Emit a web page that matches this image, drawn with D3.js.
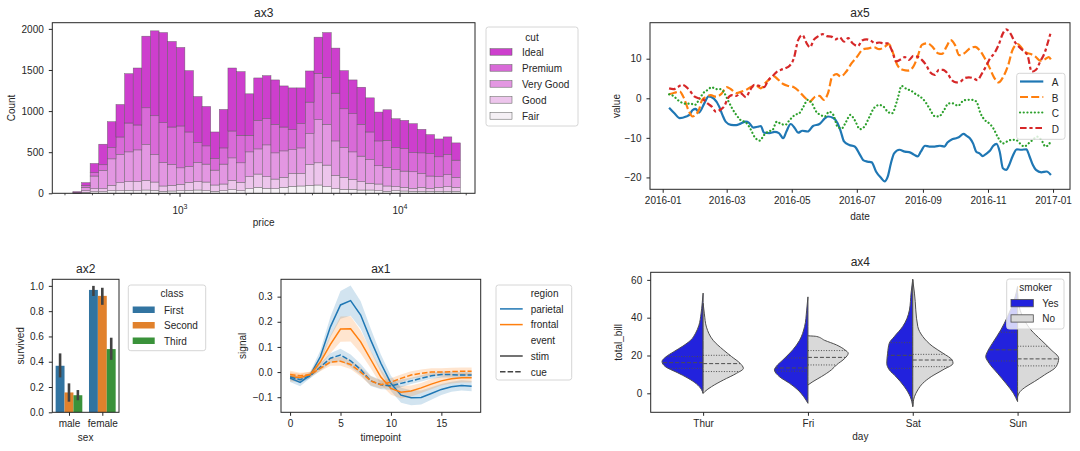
<!DOCTYPE html>
<html><head><meta charset="utf-8">
<script src="https://cdn.jsdelivr.net/npm/d3@7"></script>
<style>
body{margin:0;background:#fff;}
svg text{font-family:"Liberation Sans",Arial,sans-serif;fill:#262626;}
</style></head><body>
<svg id="c" width="1080" height="451"></svg>
<script>
// ---------------- DATA ----------------
// ax3: stacked histogram of price (log bins)
const priceMin = 326, priceMax = 18823, nBins = 45;
const cutNames = ["Ideal","Premium","Very Good","Good","Fair"];
const cutColors = ["#cd3fcd","#d96ad8","#e397e2","#edc5ec","#f5f0f5"];
const histIdeal = [8,33,113,250,315,395,600,693,871,1033,1096,1041,955,746,560,479,323,468,766,774,504,516,524,540,500,508,435,379,439,544,548,464,411,451,415,351,371,350,343,351,286,230,217,214,210];
const histPremium = [5,24,40,69,137,213,351,303,447,471,484,455,509,419,242,222,141,197,327,335,202,347,318,347,290,242,295,383,565,572,581,471,464,387,335,302,330,267,274,234,250,274,242,246,209];
const histVeryGood = [4,41,154,222,322,343,363,387,436,335,286,254,201,194,234,218,181,242,274,238,302,306,387,319,322,290,310,375,524,496,419,363,335,311,290,222,226,209,197,202,169,150,129,145,121];
const histGood = [2,20,36,36,65,97,105,109,117,101,65,69,77,97,101,105,77,81,113,101,146,161,142,117,121,157,153,254,270,262,162,146,121,101,81,81,65,49,45,36,49,36,49,57,49];
const histFair = [1,12,20,20,32,32,36,32,40,36,24,28,32,36,40,32,24,32,44,32,56,73,60,56,73,85,89,97,101,81,56,48,48,40,40,32,24,32,28,24,24,24,24,24,24];
const ax3YTicks = [0,500,1000,1500,2000];

// ax5: line plot, points = [day of 2016 (0 = Jan 1), value]
const seriesNames = ["A","B","C","D"];
const seriesColors = ["#1f77b4","#ff7f0e","#2ca02c","#d62728"];
const seriesA = [[6,-2.4],[11,-3.8],[16,-5.0],[22,-4.6],[25,-4.2],[28,-3.0],[31,-2.7],[34,-3.6],[39,-1.3],[43,0.5],[48,-0.1],[53,-2.1],[56,-4.2],[59,-5.9],[64,-6.7],[69,-6.8],[73,-6.4],[78,-5.9],[81,-6.2],[85,-7.4],[89,-7.2],[92,-7.0],[95,-8.7],[100,-8.8],[105,-8.5],[109,-8.8],[113,-10.1],[116,-8.4],[120,-6.5],[124,-7.6],[127,-8.7],[131,-8.2],[136,-8.4],[141,-7.0],[147,-6.5],[152,-5.1],[155,-4.6],[160,-5.0],[164,-6.3],[167,-8.4],[170,-10.9],[175,-11.8],[180,-12.2],[185,-14.3],[188,-15.6],[192,-16.0],[196,-16.2],[200,-18.5],[205,-20.2],[208,-21.0],[211,-19.8],[214,-16.4],[217,-13.9],[222,-13.0],[227,-13.5],[231,-13.6],[236,-14.3],[239,-14.7],[242,-13.5],[246,-12.0],[250,-12.2],[255,-12.2],[260,-12.0],[264,-12.2],[267,-11.2],[271,-10.4],[275,-10.1],[278,-9.8],[282,-9.0],[285,-9.5],[288,-10.1],[291,-11.4],[294,-13.5],[297,-13.9],[300,-14.6],[303,-14.1],[307,-13.2],[310,-12.0],[313,-11.5],[316,-13.5],[319,-17.7],[322,-18.1],[325,-16.8],[328,-14.7],[332,-12.9],[336,-13.0],[341,-12.9],[344,-14.7],[347,-16.8],[350,-18.1],[355,-18.7],[360,-18.5],[364,-19.4]];
const seriesB = [[6,1.0],[11,1.4],[16,1.7],[20,0],[24,-2.9],[28,-4.6],[31,-4.2],[34,-2.9],[37,-0.4],[41,0.4],[45,0.8],[50,0.4],[55,1.1],[60,2.8],[64,2.3],[69,1.3],[74,1.7],[78,2.1],[83,2.9],[88,3.1],[92,2.5],[96,3.8],[100,4.8],[104,5.6],[108,4.8],[113,3.6],[118,3.1],[123,2.8],[128,1.7],[134,0],[138,-0.8],[143,0.4],[147,0.6],[151,-0.4],[155,1.3],[159,5.5],[163,6.1],[167,5.5],[172,6.7],[177,8.8],[182,10.4],[188,12.4],[193,12.6],[198,12.9],[203,12.4],[208,13.0],[212,13.7],[216,11.4],[220,8.4],[225,7.2],[230,7.0],[235,8.0],[239,10.5],[243,13.5],[248,13.9],[253,13.0],[258,11.4],[262,11.2],[266,13.0],[270,14.7],[274,13.5],[278,10.9],[283,11.4],[288,12.6],[293,13.0],[297,12.2],[302,10.1],[306,8.0],[311,5.1],[315,4.0],[319,5.3],[324,8.4],[328,12.2],[333,13.7],[337,12.6],[341,11.5],[345,11.2],[350,10.4],[354,9.5],[358,9.8],[362,10.4],[364,9.8]];
const seriesC = [[6,1.0],[10,0.6],[14,-0.4],[18,-1.1],[22,-1.4],[26,-1.3],[30,-1.7],[34,-0.4],[38,1.3],[42,2.1],[46,2.8],[50,2.3],[54,2.3],[57,1.7],[61,-0.4],[65,-2.5],[69,-4.2],[73,-5.5],[78,-6.1],[82,-7.6],[86,-9.7],[91,-10.7],[95,-9.3],[99,-8.4],[103,-8.0],[107,-5.9],[111,-6.5],[115,-6.7],[119,-5.5],[124,-4.2],[128,-3.8],[132,-2.1],[136,-0.4],[140,-1.3],[144,-3.4],[148,-4.2],[152,-4.6],[156,-3.4],[160,-4.2],[164,-7.2],[168,-7.6],[172,-5.9],[176,-4.2],[180,-5.5],[185,-7.8],[189,-7.2],[194,-4.6],[198,-2.5],[203,-1.7],[207,-2.1],[211,-3.4],[215,-3.8],[220,-0.4],[224,3.1],[229,2.3],[233,1.9],[237,1.1],[242,0.3],[246,-0.8],[250,-2.5],[255,-4.5],[259,-4.6],[264,-2.9],[268,-1.3],[272,-1.3],[277,-1.9],[281,-0.8],[285,-0.4],[290,-0.4],[294,-0.8],[298,-3.8],[302,-5.5],[306,-6.3],[310,-7.6],[314,-9.7],[319,-11.4],[323,-10.9],[327,-10.5],[331,-10.5],[335,-11.4],[339,-12.2],[343,-11.4],[347,-10.5],[351,-9.7],[355,-10.5],[359,-12.2],[364,-10.9]];
const seriesD = [[6,2.5],[10,2.3],[14,2.8],[18,3.4],[22,2.9],[26,1.7],[30,0.4],[34,0],[38,-0.3],[42,-1.3],[46,-2.1],[50,-3.4],[54,-2.9],[58,-1.9],[61,0],[65,0.8],[69,0.6],[73,1.3],[78,0.3],[82,2.1],[86,3.4],[91,3.1],[95,2.8],[99,4.6],[103,5.6],[107,6.7],[111,7.2],[115,7.6],[119,8.2],[123,10.1],[127,14.7],[131,16.0],[135,13.9],[138,12.9],[142,14.9],[146,15.7],[150,16.2],[154,15.7],[158,15.6],[162,14.9],[166,15.4],[170,14.3],[174,15.2],[178,13.9],[183,13.2],[187,14.6],[191,14.9],[195,14.6],[199,13.9],[203,14.1],[207,13.9],[211,13.9],[215,12.0],[219,9.3],[223,9.8],[227,10.4],[231,9.7],[235,10.7],[239,10.5],[243,9.7],[247,8.4],[251,6.5],[255,5.9],[259,7.2],[263,7.2],[267,6.3],[271,4.6],[275,4.0],[279,4.2],[283,5.1],[287,5.3],[291,5.1],[295,4.6],[299,6.1],[303,8.0],[307,10.1],[311,11.4],[315,13.5],[319,16.4],[322,17.4],[326,16.4],[330,14.3],[334,13.0],[338,12.0],[342,10.9],[346,6.7],[350,7.2],[354,9.3],[358,11.4],[362,14.9],[364,16.8]];
const ax5YTicks = [-20,-10,0,10];

// ax2: barplot
const sexCats = ["male","female"];
const classNames = ["First","Second","Third"];
const classColors = ["#3274a1","#e1812c","#3a923a"];
const survMale = [0.368,0.157,0.135];
const survFemale = [0.968,0.921,0.5];
const ciMaleLo = [0.276,0.084,0.095], ciMaleHi = [0.466,0.229,0.176];
const ciFemaleLo = [0.92,0.85,0.415], ciFemaleHi = [1.0,0.985,0.59];
const ax2YTicks = [0,0.2,0.4,0.6,0.8,1.0];

// ax1: fmri signal
const timepoints = [0,1,2,3,4,5,6,7,8,9,10,11,12,13,14,15,16,17,18];
const parietalStim = [-0.024,-0.041,-0.012,0.061,0.18,0.267,0.284,0.227,0.127,0.035,-0.045,-0.092,-0.102,-0.101,-0.085,-0.069,-0.058,-0.053,-0.056];
const frontalStim = [-0.019,-0.022,-0.01,0.04,0.11,0.171,0.172,0.12,0.05,-0.02,-0.065,-0.08,-0.075,-0.063,-0.048,-0.035,-0.027,-0.023,-0.023];
const parietalCue = [-0.02,-0.03,-0.015,0.02,0.055,0.068,0.045,0.01,-0.035,-0.05,-0.055,-0.045,-0.035,-0.025,-0.015,-0.01,-0.01,-0.012,-0.012];
const frontalCue = [-0.01,-0.015,-0.01,0.015,0.04,0.043,0.03,0.0,-0.035,-0.05,-0.04,-0.025,-0.012,-0.005,0.0,0.0,0.002,0.003,0.003];
const ciParietalStim = [0.015,0.015,0.012,0.025,0.04,0.055,0.06,0.055,0.045,0.035,0.03,0.03,0.03,0.028,0.025,0.022,0.02,0.02,0.02];
const ciFrontalStim = [0.018,0.015,0.012,0.02,0.035,0.05,0.05,0.045,0.035,0.03,0.025,0.025,0.022,0.02,0.02,0.018,0.018,0.018,0.018];
const ciParietalCue = [0.012,0.012,0.01,0.015,0.02,0.025,0.025,0.022,0.02,0.018,0.015,0.015,0.012,0.012,0.012,0.012,0.012,0.012,0.012];
const ciFrontalCue = [0.015,0.012,0.01,0.012,0.015,0.018,0.018,0.018,0.018,0.015,0.015,0.015,0.015,0.015,0.015,0.015,0.015,0.015,0.015];
const ax1XTicks = [0,5,10,15];
const ax1YTicks = [-0.1,0.0,0.1,0.2,0.3];

// ax4: split violins, profile = [total_bill, half-width fraction]
const dayCats = ["Thur","Fri","Sat","Sun"];
const smokerNames = ["Yes","No"];
const smokerColors = ["#2222dd","#d9d9d9"];
const violinYes = [
  [[53,0],[48,0.02],[42,0.05],[36,0.1],[31.8,0.18],[28,0.3],[25,0.48],[22,0.7],[19.4,0.88],[16.8,0.98],[14.1,0.9],[11,0.62],[8,0.36],[5,0.16],[2,0.04],[0,0]],
  [[51,0],[44,0.03],[35.3,0.08],[28,0.2],[23,0.36],[17.6,0.6],[14.1,0.76],[12.4,0.8],[8.8,0.68],[5.3,0.44],[1.8,0.24],[-1.8,0.1],[-5.3,0]],
  [[60.4,0],[53,0.04],[44,0.08],[35.3,0.24],[30,0.44],[26.5,0.56],[21.2,0.6],[15.9,0.62],[12.4,0.56],[8.8,0.4],[3.5,0.2],[-1.8,0.06],[-7,0]],
  [[56.5,0],[49.4,0.08],[40.6,0.24],[33.5,0.4],[26.5,0.6],[22,0.72],[19.4,0.76],[15.9,0.68],[10.6,0.48],[5.3,0.28],[0,0.1],[-4.4,0]]
];
const violinNo = [
  [[47.6,0],[42,0.03],[35,0.08],[28,0.24],[23,0.48],[19.4,0.68],[15.9,0.88],[13.2,0.96],[10.6,0.8],[7,0.48],[3.5,0.2],[0.9,0.04],[0,0]],
  [[30.4,0],[30.1,0.2],[28,0.4],[25.6,0.68],[23,0.88],[21.2,0.96],[18.5,0.88],[15,0.68],[12.4,0.56],[8.8,0.32],[6.2,0.12],[4.4,0]],
  [[60,0],[53,0.04],[35.3,0.12],[30,0.24],[24.7,0.48],[21.2,0.72],[17.6,0.94],[15.9,0.96],[12.4,0.72],[8.8,0.44],[5.3,0.24],[1.8,0.12],[-1.8,0.04],[-7,0]],
  [[53,0],[44,0.06],[38.8,0.16],[33.5,0.32],[28.2,0.56],[23,0.8],[18.5,0.98],[14.1,0.92],[9.7,0.64],[6.2,0.4],[3.5,0.2],[0.9,0.06],[-1.8,0]]
];
const quartYes = [[13.2,16.2,19.4],[11.7,13.4,18.7],[13.2,20.1,26.8],[17.1,23.0,32.3]];
const quartNo = [[11.5,15.7,20.1],[15.0,19.0,22.6],[14.1,17.6,20.6],[14.5,18.2,24.9]];
const ax4YTicks = [0,20,40,60];

// ---------------- DRAWING ----------------
const svg = d3.select("#c");
svg.append("rect").attr("width",1080).attr("height",451).attr("fill","#fff");
const INK = "#262626";

function txt(x,y,s,o={}){
  const t = svg.append("text").attr("x",x).attr("y",y).text(s)
    .attr("font-size",o.size||10).attr("text-anchor",o.anchor||"start");
  if(o.rot) t.attr("transform",`rotate(${o.rot},${x},${y})`);
  return t;
}
function frame(x0,y0,x1,y1){
  svg.append("rect").attr("x",x0).attr("y",y0).attr("width",x1-x0).attr("height",y1-y0)
    .attr("fill","none").attr("stroke",INK).attr("stroke-width",1);
}
function styleAxis(g){
  g.select(".domain").remove();
  g.selectAll(".tick line").attr("stroke",INK).attr("stroke-width",1);
  g.selectAll(".tick text").attr("font-size",10).attr("fill",INK)
    .attr("font-family","Liberation Sans, Arial, sans-serif");
}
function leftAxis(scale,x,ticks,fmt){
  const g = svg.append("g").attr("transform",`translate(${x},0)`)
    .call(d3.axisLeft(scale).tickValues(ticks).tickSize(3.5).tickPadding(5).tickFormat(fmt||(d=>String(d).replace("-","\u2212"))));
  styleAxis(g); return g;
}
function bottomAxis(scale,y,ticks,fmt){
  const g = svg.append("g").attr("transform",`translate(0,${y})`)
    .call(d3.axisBottom(scale).tickValues(ticks).tickSize(3.5).tickPadding(4.5).tickFormat(fmt||(d=>String(d))));
  styleAxis(g); return g;
}
function legendBox(x0,y0,x1,y1){
  svg.append("rect").attr("x",x0).attr("y",y0).attr("width",x1-x0).attr("height",y1-y0)
    .attr("rx",2.5).attr("fill","#fff").attr("fill-opacity",0.8).attr("stroke","#d6d6d6").attr("stroke-width",1);
}
const minusFmt = f => (d => d3.format(f)(d).replace("-","\u2212"));

// ===== ax3 =====
{
  const L=52.3,R=475,T=22.7,B=193.3;
  const x = d3.scaleLog().domain([Math.pow(10,2.4195),Math.pow(10,4.3409)]).range([L,R]);
  const y = d3.scaleLinear().domain([0,2075]).range([B,T]);
  const lmin = Math.log10(priceMin), lmax = Math.log10(priceMax);
  const edges = d3.range(nBins+1).map(i=>Math.pow(10, lmin + i*(lmax-lmin)/nBins));
  const cols = [histIdeal,histPremium,histVeryGood,histGood,histFair];
  const rows = d3.range(nBins).map(i=>{ const r={x0:edges[i],x1:edges[i+1]}; cutNames.forEach((c,k)=>r[c]=cols[k][i]); return r;});
  const keys = cutNames.slice().reverse();
  const stack = d3.stack().keys(keys)(rows);
  stack.forEach(layer=>{
    const col = cutColors[cutNames.indexOf(layer.key)];
    svg.append("g").selectAll("rect").data(layer).join("rect")
      .attr("x",d=>x(d.data.x0)).attr("width",d=>x(d.data.x1)-x(d.data.x0))
      .attr("y",d=>y(d[1])).attr("height",d=>y(d[0])-y(d[1]))
      .attr("fill",col).attr("stroke","#555").attr("stroke-width",0.5).attr("stroke-opacity",0.8);
  });
  frame(L,T,R,B);
  leftAxis(y,L,ax3YTicks);
  // minor ticks
  const minor = [300,400,500,600,700,800,900,2000,3000,4000,5000,6000,7000,8000,9000,20000];
  svg.append("g").selectAll("line").data(minor).join("line")
    .attr("x1",d=>x(d)).attr("x2",d=>x(d)).attr("y1",B).attr("y2",B+2).attr("stroke",INK).attr("stroke-width",0.8);
  const major = [1000,10000];
  svg.append("g").selectAll("line").data(major).join("line")
    .attr("x1",d=>x(d)).attr("x2",d=>x(d)).attr("y1",B).attr("y2",B+3.5).attr("stroke",INK).attr("stroke-width",1);
  major.forEach(v=>{
    const t = txt(x(v),B+20.5,"10",{anchor:"middle"});
    t.append("tspan").attr("dy",-4.5).attr("font-size",7).text(String(Math.round(Math.log10(v))));
  });
  txt((L+R)/2,16.7,"ax3",{size:12,anchor:"middle"});
  txt((L+R)/2,225.5,"price",{anchor:"middle"});
  txt(14.5,(T+B)/2,"Count",{anchor:"middle",rot:-90});
  // legend
  legendBox(486,27,578,126);
  txt(532,41,"cut",{anchor:"middle"});
  cutNames.forEach((c,i)=>{
    const by = 55.5 + i*16;
    svg.append("rect").attr("x",490).attr("y",by-6.8).attr("width",22).attr("height",6.5)
      .attr("fill",cutColors[i]).attr("stroke","#555").attr("stroke-width",0.5);
    txt(522,by,c);
  });
}

// ===== ax5 =====
{
  const L=650,R=1070,T=22.7,B=189.3;
  const day0 = Date.UTC(2016,0,1);
  const toDate = d => new Date(day0 + d*864e5);
  const x = d3.scaleUtc().domain([toDate(-11.9),toDate(381.9)]).range([L,R]);
  const y = d3.scaleLinear().domain([-23,19.1]).range([B,T]);
  const dashes = [null,"8,3.2","2.2,2.2","6.6,2.8,3.2,2.8"];
  const all = [seriesA,seriesB,seriesC,seriesD];
  const line = d3.line().x(d=>x(toDate(d[0]))).y(d=>y(d[1])).curve(d3.curveMonotoneX);
  all.forEach((s,i)=>{
    const p = svg.append("path").attr("d",line(s)).attr("fill","none")
      .attr("stroke",seriesColors[i]).attr("stroke-width",2.2).attr("stroke-linecap",i===2?"round":"butt");
    if(dashes[i]) p.attr("stroke-dasharray",i===2?"0.1,3.6":dashes[i]);
  });
  frame(L,T,R,B);
  leftAxis(y,L,ax5YTicks);
  const monthTicks = [0,2,4,6,8,10,12].map(m=>new Date(Date.UTC(2016,m,1)));
  bottomAxis(x,B,monthTicks,d3.utcFormat("%Y-%m"));
  txt((L+R)/2,16.7,"ax5",{size:12,anchor:"middle"});
  txt((L+R)/2,220,"date",{anchor:"middle"});
  txt(619.5,(T+B)/2,"value",{anchor:"middle",rot:-90});
  legendBox(1016.7,73.3,1065,139.3);
  seriesNames.forEach((n,i)=>{
    const by = 86 + i*15.5;
    const l = svg.append("line").attr("x1",1020).attr("x2",1043.3).attr("y1",by-4.5).attr("y2",by-4.5)
      .attr("stroke",seriesColors[i]).attr("stroke-width",2.2).attr("stroke-linecap",i===2?"round":"butt");
    if(dashes[i]) l.attr("stroke-dasharray",i===2?"0.1,3.6":dashes[i]);
    txt(1051.7,by,n);
  });
}

// ===== ax2 =====
{
  const L=52.3,R=119,T=279.3,B=412.3;
  const x = d3.scaleLinear().domain([-0.5,1.5]).range([L,R]);
  const y = d3.scaleLinear().domain([0,1.052]).range([B,T]);
  const bw = 0.8/3;
  const vals = [survMale,survFemale], lo=[ciMaleLo,ciFemaleLo], hi=[ciMaleHi,ciFemaleHi];
  sexCats.forEach((s,ci)=>{
    classNames.forEach((c,k)=>{
      const cx = ci + (k-1)*bw;
      svg.append("rect").attr("x",x(cx-bw/2)).attr("width",x(cx+bw/2)-x(cx-bw/2))
        .attr("y",y(vals[ci][k])).attr("height",y(0)-y(vals[ci][k])).attr("fill",classColors[k]);
    });
  });
  sexCats.forEach((s,ci)=>{
    classNames.forEach((c,k)=>{
      const cx = ci + (k-1)*bw;
      svg.append("line").attr("x1",x(cx)).attr("x2",x(cx)).attr("y1",y(lo[ci][k])).attr("y2",y(hi[ci][k]))
        .attr("stroke","#424242").attr("stroke-width",2.6);
    });
  });
  frame(L,T,R,B);
  leftAxis(y,L,ax2YTicks,d3.format(".1f"));
  bottomAxis(x,B,[0,1],d=>sexCats[d]);
  txt((L+R)/2,273.3,"ax2",{size:12,anchor:"middle"});
  txt((L+R)/2,441,"sex",{anchor:"middle"});
  txt(24.5,(T+B)/2,"survived",{anchor:"middle",rot:-90});
  legendBox(128.3,285,205.7,350.7);
  txt(172,297,"class",{anchor:"middle"});
  classNames.forEach((c,i)=>{
    const by = 313.5 + i*15.5;
    svg.append("rect").attr("x",132.7).attr("y",by-7).attr("width",22).attr("height",6.5).attr("fill",classColors[i]);
    txt(164,by,c);
  });
}

// ===== ax1 =====
{
  const L=281,R=480.7,T=279.3,B=412.3;
  const x = d3.scaleLinear().domain([-0.9,18.9]).range([L,R]);
  const y = d3.scaleLinear().domain([-0.16,0.369]).range([B,T]);
  const blue="#1f77b4", orange="#ff7f0e";
  const groups = [
    {m:parietalStim,ci:ciParietalStim,c:blue,dash:null},
    {m:frontalStim,ci:ciFrontalStim,c:orange,dash:null},
    {m:parietalCue,ci:ciParietalCue,c:blue,dash:"5.5,2.1"},
    {m:frontalCue,ci:ciFrontalCue,c:orange,dash:"5.5,2.1"}
  ];
  const area = d3.area().x((d,i)=>x(timepoints[i])).y0(d=>y(d[0]-d[1])).y1(d=>y(d[0]+d[1]));
  const line = d3.line().x((d,i)=>x(timepoints[i])).y(d=>y(d));
  groups.forEach(g=>{
    svg.append("path").attr("d",area(g.m.map((v,i)=>[v,g.ci[i]]))).attr("fill",g.c).attr("fill-opacity",0.2);
  });
  groups.forEach(g=>{
    const p = svg.append("path").attr("d",line(g.m)).attr("fill","none").attr("stroke",g.c).attr("stroke-width",1.5);
    if(g.dash) p.attr("stroke-dasharray",g.dash);
  });
  frame(L,T,R,B);
  leftAxis(y,L,ax1YTicks,minusFmt(".1f"));
  bottomAxis(x,B,ax1XTicks);
  txt((L+R)/2,273.3,"ax1",{size:12,anchor:"middle"});
  txt((L+R)/2,440.5,"timepoint",{anchor:"middle"});
  txt(246,(T+B)/2,"signal",{anchor:"middle",rot:-90});
  legendBox(496,285,571.7,380);
  const items = [["region",null,null],["parietal",blue,null],["frontal",orange,null],["event",null,null],["stim","#444",null],["cue","#444","5.5,2.1"]];
  items.forEach((it,i)=>{
    const by = 297 + i*15.7;
    if(it[1]){
      const l = svg.append("line").attr("x1",500).attr("x2",522.7).attr("y1",by-3.8).attr("y2",by-3.8)
        .attr("stroke",it[1]).attr("stroke-width",1.5);
      if(it[2]) l.attr("stroke-dasharray",it[2]);
    }
    txt(530.7,by,it[0]);
  });
}

// ===== ax4 =====
{
  const L=650.7,R=1070,T=272.3,B=412.3;
  const x = d3.scaleLinear().domain([-0.5,3.5]).range([L,R]);
  const y = d3.scaleLinear().domain([-10.05,64]).range([B,T]);
  const hw = x(0.4)-x(0);
  const widthAt = (prof,v)=>{
    for(let i=0;i<prof.length-1;i++){
      const a=prof[i],b=prof[i+1];
      if(v<=a[0] && v>=b[0]){ const t=(a[0]-v)/(a[0]-b[0]); return a[1]+(b[1]-a[1])*t; }
    }
    return 0;
  };
  dayCats.forEach((d,i)=>{
    const cx = x(i);
    [[violinYes[i],-1,smokerColors[0],quartYes[i]],[violinNo[i],1,smokerColors[1],quartNo[i]]].forEach(([prof,side,col,q])=>{
      const ar = d3.area().y(p=>y(p[0])).x0(cx).x1(p=>cx+side*p[1]*hw).curve(d3.curveMonotoneY);
      svg.append("path").attr("d",ar(prof)).attr("fill",col).attr("stroke","#4d4d4d").attr("stroke-width",1);
      q.forEach((v,k)=>{
        const w = widthAt(prof,v)*hw;
        svg.append("line").attr("x1",cx).attr("x2",cx+side*w).attr("y1",y(v)).attr("y2",y(v))
          .attr("stroke","#4d4d4d").attr("stroke-width",1)
          .attr("stroke-dasharray",k===1?"4,2":"1,1.6");
      });
    });
  });
  frame(L,T,R,B);
  leftAxis(y,L,ax4YTicks);
  bottomAxis(x,B,[0,1,2,3],d=>dayCats[d]);
  txt((L+R)/2,266.3,"ax4",{size:12,anchor:"middle"});
  txt((L+R)/2,440,"day",{anchor:"middle"});
  txt(622.5,(T+B)/2,"total_bill",{anchor:"middle",rot:-90});
  legendBox(1006.7,279,1064,329);
  txt(1035.7,291,"smoker",{anchor:"middle"});
  smokerNames.forEach((n,i)=>{
    const by = 307 + i*15.3;
    svg.append("rect").attr("x",1011).attr("y",by-7.5).attr("width",22.3).attr("height",7.3)
      .attr("fill",smokerColors[i]).attr("stroke","#4d4d4d").attr("stroke-width",0.8);
    txt(1042.3,by,n);
  });
}
</script>
</body></html>
